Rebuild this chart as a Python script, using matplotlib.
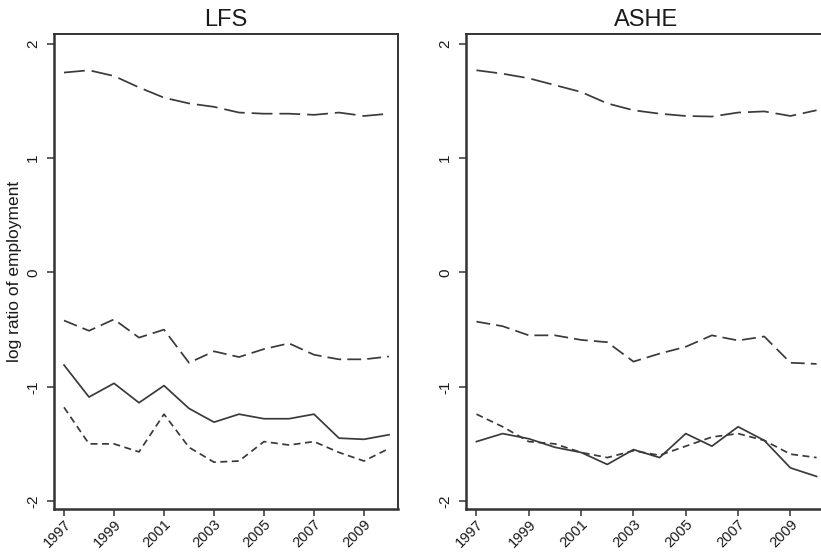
import matplotlib
matplotlib.use("Agg")
import matplotlib.pyplot as plt

plt.rcParams['font.family'] = ['Liberation Sans', 'DejaVu Sans']

years = list(range(1997, 2011))
xtick_years = [1997, 1999, 2001, 2003, 2005, 2007, 2009]
yticks = [-2, -1, 0, 1, 2]

# LFS series
lfs_top = [1.75, 1.77, 1.72, 1.62, 1.53, 1.48, 1.45, 1.40, 1.39, 1.39, 1.38, 1.40, 1.37, 1.39]
lfs_mid = [-0.42, -0.51, -0.41, -0.57, -0.50, -0.79, -0.69, -0.74, -0.67, -0.62, -0.72, -0.76, -0.76, -0.735]
lfs_solid = [-0.81, -1.09, -0.97, -1.14, -0.99, -1.19, -1.31, -1.24, -1.28, -1.28, -1.24, -1.45, -1.46, -1.42]
lfs_short = [-1.18, -1.50, -1.50, -1.57, -1.24, -1.53, -1.66, -1.65, -1.48, -1.51, -1.48, -1.575, -1.65, -1.54]

# ASHE series
ashe_top = [1.77, 1.74, 1.70, 1.64, 1.58, 1.48, 1.42, 1.39, 1.37, 1.365, 1.40, 1.41, 1.37, 1.42]
ashe_mid = [-0.43, -0.47, -0.55, -0.55, -0.59, -0.61, -0.78, -0.71, -0.65, -0.55, -0.595, -0.56, -0.79, -0.80]
ashe_solid = [-1.48, -1.41, -1.455, -1.53, -1.575, -1.68, -1.55, -1.62, -1.41, -1.52, -1.35, -1.47, -1.71, -1.785]
ashe_short = [-1.24, -1.35, -1.48, -1.50, -1.575, -1.62, -1.56, -1.60, -1.52, -1.44, -1.41, -1.47, -1.59, -1.62]

line_col = '#3a3a3a'
axis_col = '#333333'
text_col = '#1a1a1a'

fig = plt.figure(figsize=(8.21, 5.52), dpi=100)
fig.patch.set_facecolor('white')

W, H = 821.0, 552.0
ax_l = fig.add_axes([54 / W, 1 - 509 / H, 344 / W, 475 / H])
ax_r = fig.add_axes([466 / W, 1 - 509 / H, 360 / W, 475 / H])

panels = [
    (ax_l, 'LFS', lfs_top, lfs_mid, lfs_solid, lfs_short),
    (ax_r, 'ASHE', ashe_top, ashe_mid, ashe_solid, ashe_short),
]

lw = 1.25
for ax, title, top, mid, solid, short in panels:
    ax.plot(years, top, color=line_col, lw=lw, dashes=(12, 4))
    ax.plot(years, mid, color=line_col, lw=lw, dashes=(8, 3.5))
    ax.plot(years, solid, color=line_col, lw=lw, linestyle='-')
    ax.plot(years, short, color=line_col, lw=lw, dashes=(4, 2.6))

    ax.set_xlim(1996.6, 2010.36)
    ax.set_ylim(-2.07, 2.0875)
    ax.set_xticks(xtick_years)
    ax.set_xticklabels([str(y) for y in xtick_years], rotation=45,
                       ha='right', rotation_mode='anchor', fontsize=10.5)
    ax.set_yticks(yticks)
    ax.set_yticklabels([str(v) for v in yticks], rotation=90,
                       va='center', fontsize=11)
    ax.tick_params(axis='both', direction='out', length=5, width=1.1,
                   color=axis_col, labelcolor=text_col)
    ax.tick_params(axis='y', pad=5)
    ax.tick_params(axis='x', pad=1)
    for side in ['left', 'bottom']:
        ax.spines[side].set_linewidth(1.8)
        ax.spines[side].set_color(axis_col)
    for side in ['top', 'right']:
        ax.spines[side].set_linewidth(1.4)
        ax.spines[side].set_color(axis_col)
    ax.set_title(title, fontsize=17, color=text_col, pad=6)

ax_l.set_ylabel('log ratio of employment', fontsize=12.5, color=text_col, labelpad=3)

fig.savefig('out.png', dpi=100, facecolor='white')
